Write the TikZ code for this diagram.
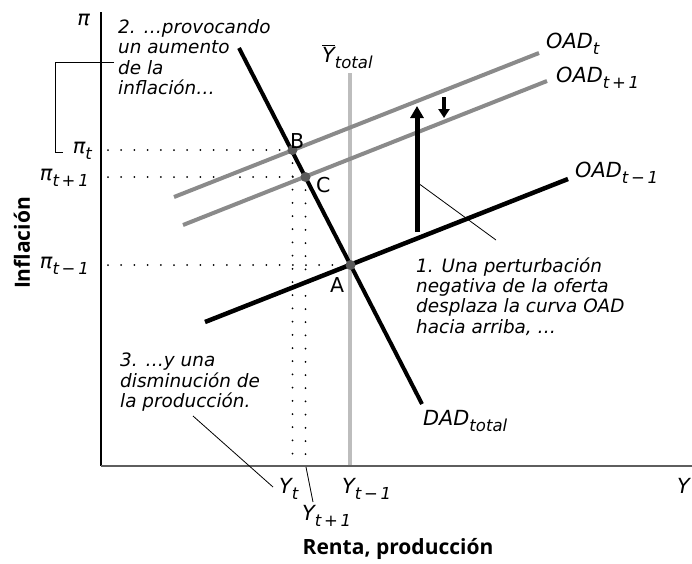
\documentclass[tikz,border=0pt]{standalone}
\usepackage{fontspec}
\setmainfont{DejaVu Sans}
\newfontfamily\titlefont{Open Sans}
\usetikzlibrary{arrows.meta}
\definecolor{midgray}{HTML}{8A8A8A}
\definecolor{ptgray}{HTML}{5A5A5A}
\definecolor{ybargray}{HTML}{BDBDBD}
\definecolor{axisgray}{HTML}{5E5E5E}
\newcommand\lsub[1]{\raisebox{-6pt}{\fontsize{16.5}{16.5}\selectfont #1}}
\newcommand\notefont{\fontsize{18.4}{20.2}\selectfont\itshape}
\newcommand\lblfont{\fontsize{20.8}{24}\selectfont\itshape}
\tikzset{
  axisline/.style={line width=1.2pt},
  oldcurve/.style={line width=4.5pt, black},
  newcurve/.style={line width=4pt, midgray},
  dadcurve/.style={line width=4pt, black},
  ybarline/.style={line width=4pt, ybargray},
  dotted guide/.style={line width=2pt, line cap=round, dash pattern=on 0pt off 13.2pt},
  leader/.style={line width=0.8pt},
  eqpt/.style={circle, fill=ptgray, inner sep=0pt, minimum size=10pt},
  note/.style={font=\notefont, align=left, anchor=north west, inner sep=0pt},
  lbl/.style={font=\lblfont, inner sep=0pt},
  ptlbl/.style={font=\fontsize{20.5}{24}\selectfont, inner sep=0pt, anchor=base west},
  axtitle/.style={font=\fontsize{21}{24}\selectfont\titlefont\bfseries, inner sep=0pt},
}
\begin{document}
\begin{tikzpicture}[x=1pt,y=-1pt]
\useasboundingbox (0,0) rectangle (692,563);
% axes
\coordinate (origin) at (101,466);
\coordinate (ytop) at (101,12);
\coordinate (xend) at (692,466);
\draw[axisline] (ytop) -- (origin);
\draw[axisline, axisgray, line width=1.4pt] (origin) -- (xend);
% Ybar vertical
\coordinate (ybar-top) at (349.5,73);
\coordinate (ybar-bot) at (349.5,465);
\draw[ybarline] (ybar-top) -- (ybar-bot);
\node[lbl, anchor=base west] (ybar-lbl) at (322,62) {$\overline{\hbox{\lblfont Y}}$\lsub{total}};
% points
\coordinate (Bc) at (292.5,150);
\coordinate (Cc) at (305.5,177);
\coordinate (Ac) at (350.5,265);
% dotted guides
\coordinate (piT) at (108,150);
\coordinate (piT1) at (108,177);
\coordinate (piTm) at (108,265);
\coordinate (yT) at (292.5,464);
\coordinate (yT1) at (305.5,464);
\draw[dotted guide] (piT) -- (Bc);
\draw[dotted guide] (piT1) -- (Cc);
\draw[dotted guide] (piTm) -- (Ac);
\draw[dotted guide] (Bc) -- (yT);
\draw[dotted guide] (Cc) -- (yT1);
% OAD curves
\coordinate (oadt-l) at (174,197);
\coordinate (oadt-r) at (539,53);
\coordinate (oadt1-l) at (183,225);
\coordinate (oadt1-r) at (547,81);
\coordinate (oadtm-l) at (205,322);
\coordinate (oadtm-r) at (568,179);
\draw[newcurve] (oadt-l) -- (oadt-r);
\draw[newcurve] (oadt1-l) -- (oadt1-r);
\draw[oldcurve] (oadtm-l) -- (oadtm-r);
% DAD
\coordinate (dad-t) at (239,48);
\coordinate (dad-b) at (422,404);
\draw[dadcurve] (dad-t) -- (dad-b);
% equilibrium points
\node[eqpt] (B) at (Bc) {};
\node[eqpt] (C) at (Cc) {};
\node[eqpt] (A) at (Ac) {};
\node[ptlbl] (B-lbl) at (290,148) {B};
\node[ptlbl] (C-lbl) at (316,192) {C};
\node[ptlbl] (A-lbl) at (330,292) {A};
% curve labels
\node[lbl, anchor=base west] (oadt-lbl) at (546,48) {OAD\lsub{t}};
\node[lbl, anchor=base west] (oadt1-lbl) at (556,82) {OAD\lsub{t\,+\,1}};
\node[lbl, anchor=base west] (oadtm-lbl) at (575,177) {OAD\lsub{t\,−\,1}};
\node[lbl, anchor=base west] (dad-lbl) at (423,425) {DAD\lsub{total}};
% axis labels
\node[lbl, anchor=base east] (pi-top) at (90,25) {π};
\node[lbl, anchor=base east] (pit-lbl) at (92,153) {π\lsub{t}};
\node[lbl, anchor=base east] (pit1-lbl) at (89,180) {π\lsub{t\,+\,1}};
\node[lbl, anchor=base east] (pitm-lbl) at (89,268) {π\lsub{t\,−\,1}};
\node[lbl, anchor=base west] (yt-lbl) at (279,493) {Y\lsub{t}};
\node[lbl, anchor=base west] (ytm-lbl) at (342,493) {Y\lsub{t\,−\,1}};
\node[lbl, anchor=base west] (yt1-lbl) at (302,520) {Y\lsub{t\,+\,1}};
\node[lbl, anchor=base west] (y-lbl) at (677,493) {Y};
\node[axtitle] (xtitle) at (398,549) {Renta, producción};
\node[axtitle, rotate=90] (ytitle) at (22,243) {Inflación};
% shift arrows
\coordinate (up-b) at (417,232);
\coordinate (up-t) at (417,106);
\draw[line width=5pt, -{Triangle[width=13pt,length=12pt]}] (up-b) -- (up-t);
\coordinate (dn-t) at (444,97);
\coordinate (dn-b) at (444,118);
\draw[line width=4pt, -{Triangle[width=11pt,length=9pt]}] (dn-t) -- (dn-b);
% notes
\node[note] (note1) at (416,257.5) {1. Una perturbación\\negativa de la oferta\\desplaza la curva OAD\\hacia arriba, …};
\node[note] (note2) at (118,19.5) {2. …provocando\\un aumento\\de la\\inflación…};
\node[note] (note3) at (120,353) {3. …y una\\disminución de\\la producción.};
% leaders
\coordinate (l1a) at (418,183);
\coordinate (l1b) at (496,240);
\draw[leader] (l1a) -- (l1b);
\coordinate (br-a) at (114,62);
\coordinate (br-b) at (55,62);
\coordinate (br-c) at (55,152);
\coordinate (br-d) at (63,152);
\draw[leader] (br-a) -- (br-b) -- (br-c) -- (br-d);
\coordinate (l3a) at (193,416);
\coordinate (l3b) at (273,487);
\draw[leader] (l3a) -- (l3b);
\coordinate (l4a) at (306,467);
\coordinate (l4b) at (313,502);
\draw[leader] (l4a) -- (l4b);
\end{tikzpicture}
\end{document}
